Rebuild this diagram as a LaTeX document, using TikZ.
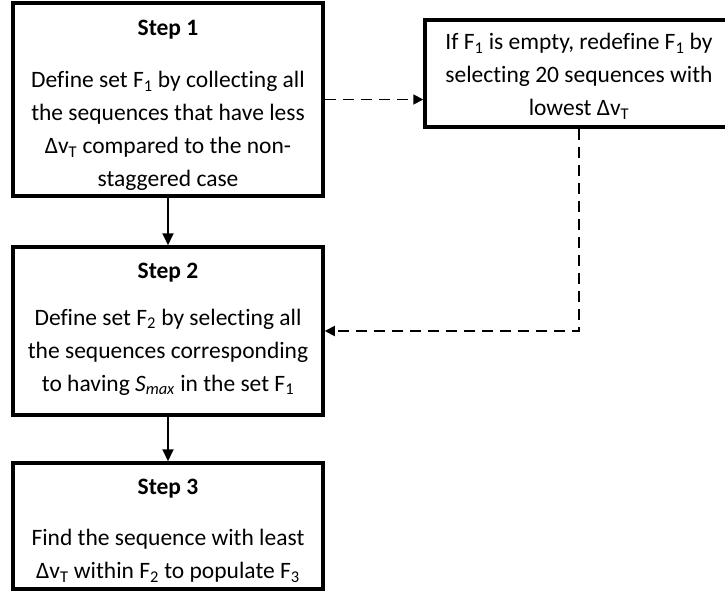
\documentclass[tikz,border=0pt]{standalone}
\usepackage{fontspec}
\setmainfont{Carlito}[Ligatures=NoCommon]
\usetikzlibrary{arrows.meta}
\newcommand{\sub}[1]{\textsubscript{#1}}
\begin{document}
\begin{tikzpicture}[x=1pt,y=-1pt,
  box/.style={draw,line width=3.5pt,inner sep=0pt},
  title/.style={font=\fontsize{23.5}{33}\selectfont\bfseries,inner sep=0pt},
  body/.style={font=\fontsize{23.5}{33}\selectfont,align=center,inner sep=0pt},
  solidarrow/.style={line width=1.8pt,-{Triangle[length=12pt,width=11pt]}},
  dasharrow/.style={line width=1.8pt,dash pattern=on 11pt off 7pt,-{Triangle[length=10pt,width=10pt]}}]
\useasboundingbox (0,0) rectangle (725,594);
\clip (0,0) rectangle (725,594);
\node[box,minimum width=310pt,minimum height=193pt] (s1) at (168,99.5) {};
\node[box,minimum width=308pt,minimum height=107pt] (r) at (579,73.5) {};
\node[box,minimum width=310pt,minimum height=168pt] (s2) at (168,331) {};
\node[box,minimum width=310pt,minimum height=126pt] (s3) at (168,526) {};
\node[title] (t1) at (168,30) {Step 1};
\node[body] (b1) at (168,131) {Define set F\sub{1} by collecting all\\the sequences that have less\\Δv\sub{T} compared to the non-\\staggered case};
\node[body] (br) at (579,76) {If F\sub{1} is empty, redefine F\sub{1} by\\selecting 20 sequences with\\lowest Δv\sub{T}};
\node[title] (t2) at (168,273) {Step 2};
\node[body] (b2) at (168,352) {Define set F\sub{2} by selecting all\\the sequences corresponding\\to having \textit{S}\sub{\textit{max}} in the set F\sub{1}};
\node[title] (t3) at (168,489) {Step 3};
\node[body] (b3) at (168,556) {Find the sequence with least\\Δv\sub{T} within F\sub{2} to populate F\sub{3}};
\draw[solidarrow] (s1.south) -- (s2.north);
\draw[solidarrow] (s2.south) -- (s3.north);
\draw[dasharrow] (s1.east) -- (s1.east -| r.west);
\draw[dasharrow] (r.south) |- (s2.east);
\end{tikzpicture}
\end{document}
